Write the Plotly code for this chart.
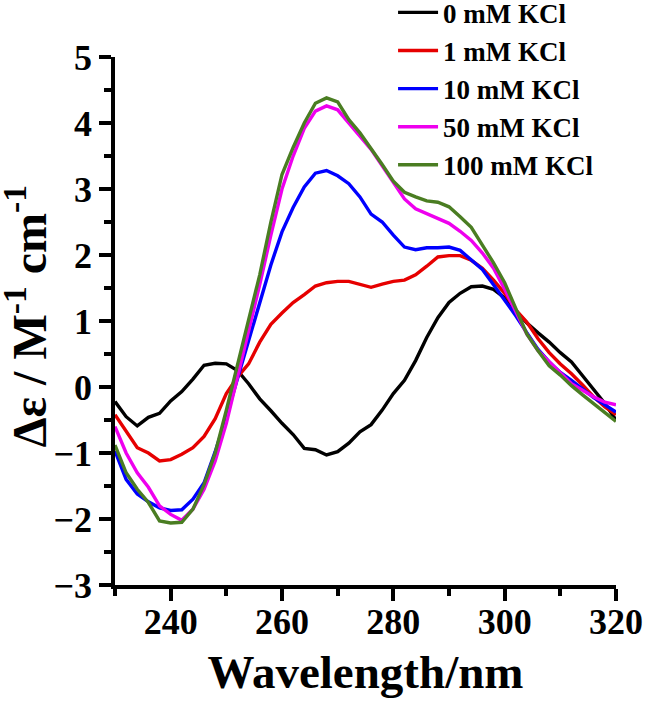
import plotly.graph_objects as go

wavelength = list(range(230, 321, 2))

kcl_0 = [-0.22, -0.45, -0.59, -0.46, -0.40, -0.21, -0.07, 0.12, 0.33, 0.36,
         0.35, 0.25, 0.05, -0.18, -0.36, -0.55, -0.72, -0.93, -0.95, -1.03,
         -0.98, -0.85, -0.68, -0.57, -0.35, -0.10, 0.10, 0.40, 0.75, 1.05,
         1.28, 1.42, 1.52, 1.53, 1.48, 1.35, 1.15, 0.97, 0.82, 0.68,
         0.52, 0.38, 0.17, -0.03, -0.25, -0.50]
kcl_1 = [-0.42, -0.68, -0.92, -1.00, -1.12, -1.10, -1.02, -0.92, -0.75, -0.48,
         -0.10, 0.15, 0.35, 0.68, 0.95, 1.12, 1.28, 1.40, 1.53, 1.58,
         1.60, 1.60, 1.55, 1.51, 1.56, 1.60, 1.62, 1.70, 1.83, 1.97,
         1.99, 1.99, 1.92, 1.80, 1.62, 1.42, 1.17, 0.98, 0.73, 0.52,
         0.35, 0.20, 0.03, -0.15, -0.30, -0.42]
kcl_10 = [-0.97, -1.40, -1.62, -1.74, -1.83, -1.87, -1.86, -1.70, -1.45, -0.98,
          -0.45, 0.12, 0.70, 1.30, 1.85, 2.35, 2.72, 3.03, 3.24, 3.28,
          3.20, 3.08, 2.88, 2.62, 2.50, 2.30, 2.12, 2.08, 2.11, 2.11,
          2.12, 2.07, 1.93, 1.78, 1.55, 1.32, 1.08, 0.82, 0.57, 0.38,
          0.22, 0.10, -0.03, -0.16, -0.27, -0.38]
kcl_50 = [-0.60, -1.00, -1.30, -1.52, -1.80, -1.93, -2.02, -1.85, -1.55, -1.12,
          -0.55, 0.15, 0.80, 1.55, 2.30, 3.00, 3.50, 3.92, 4.18, 4.26,
          4.20, 4.00, 3.80, 3.60, 3.35, 3.10, 2.85, 2.70, 2.63, 2.56,
          2.48, 2.36, 2.22, 2.03, 1.80, 1.48, 1.15, 0.80, 0.55, 0.38,
          0.22, 0.05, -0.05, -0.15, -0.23, -0.27]
kcl_100 = [-0.88, -1.30, -1.55, -1.75, -2.03, -2.06, -2.05, -1.85, -1.48, -1.00,
           -0.35, 0.35, 1.00, 1.70, 2.50, 3.22, 3.63, 4.00, 4.30, 4.38,
           4.32, 4.05, 3.85, 3.62, 3.37, 3.12, 2.95, 2.88, 2.82, 2.80,
           2.73, 2.58, 2.42, 2.15, 1.88, 1.58, 1.18, 0.80, 0.55, 0.32,
           0.18, 0.02, -0.12, -0.25, -0.38, -0.52]

series_names = ["0 mM KCl", "1 mM KCl", "10 mM KCl", "50 mM KCl", "100 mM KCl"]
series_values = [kcl_0, kcl_1, kcl_10, kcl_50, kcl_100]
series_colors = ["#000000", "#e60000", "#0000ff", "#ee00ee", "#4a7d22"]

x_tickvals = [240, 260, 280, 300, 320]
y_tickvals = [-3, -2, -1, 0, 1, 2, 3, 4, 5]

x_title = "Wavelength/nm"
y_title = "Δε / M<sup>-1</sup> cm<sup>-1</sup>"

FONT = "Liberation Serif, Times New Roman, serif"

fig = go.Figure()
for name, vals, col in zip(series_names, series_values, series_colors):
    fig.add_trace(go.Scatter(
        x=wavelength, y=vals, mode="lines", name=name,
        line=dict(color=col, width=3.4),
    ))

axis_common = dict(
    showline=True, linecolor="black", linewidth=3.5, mirror=False,
    showgrid=False, zeroline=False,
    ticks="outside", ticklen=12, tickwidth=3.5, tickcolor="black",
    tickfont=dict(family=FONT, size=36, color="black", weight="bold"),
)

fig.update_xaxes(
    range=[230, 320], tickmode="array", tickvals=x_tickvals,
    minor=dict(ticks="outside", ticklen=7, tickwidth=3.5, tickcolor="black",
               tick0=230, dtick=10, showgrid=False),
    ticklabelstandoff=-10,
    title=dict(text=x_title, font=dict(family=FONT, size=47, color="black", weight="bold")),
    **axis_common,
)
fig.update_yaxes(
    range=[-3, 5], tickmode="array", tickvals=y_tickvals,
    minor=dict(ticks="outside", ticklen=7, tickwidth=3.5, tickcolor="black",
               tick0=0, dtick=0.5, showgrid=False),
    **axis_common,
)

fig.add_annotation(
    text=y_title, xref="paper", yref="paper",
    x=-0.178, y=0.51, xanchor="center", yanchor="middle",
    textangle=-90, showarrow=False,
    font=dict(family=FONT, size=48, color="black", weight="bold"),
)

fig.update_layout(
    width=646, height=707,
    margin=dict(l=115, r=30, t=57, b=122, autoexpand=False),
    paper_bgcolor="white", plot_bgcolor="white",
    showlegend=True,
    legend=dict(
        x=0.555, y=1.13, xanchor="left", yanchor="top",
        font=dict(family=FONT, size=27, color="black", weight="bold"),
        bgcolor="rgba(0,0,0,0)", borderwidth=0,
        itemwidth=40, traceorder="normal",
    ),
)

fig.write_html("out.html", config={"displayModeBar": False},
               post_script="document.body.style.margin='0';")
